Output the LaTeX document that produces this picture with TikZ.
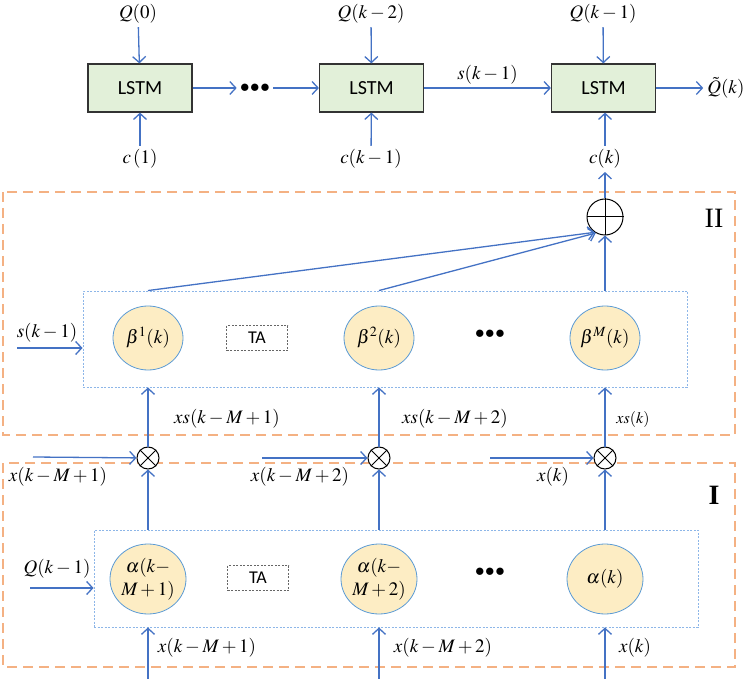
\documentclass[tikz,border=0pt]{standalone}
\usepackage{mathptmx}
\usepackage{fontspec}
\setmainfont{Liberation Serif}
\newfontfamily\calibri{Carlito}
\usetikzlibrary{arrows.meta}
\usetikzlibrary{shapes}
\definecolor{lineblue}{HTML}{4472C4}
\definecolor{lstmgreen}{HTML}{E2F0D9}
\definecolor{cellyellow}{HTML}{FDEDC4}
\definecolor{cellblue}{HTML}{5B9BD5}
\definecolor{boxblue}{HTML}{8DB6E8}
\definecolor{dashorange}{HTML}{F4B183}

\begin{document}
\begin{tikzpicture}[x=1pt, y=-1pt, font=\fontsize{19}{21}\selectfont]
	\tikzstyle{arrowStyle}=[draw=lineblue, line width=1.3pt, -{Straight Barb[length=6pt,width=13pt]}]
	\tikzstyle{lineStyle}=[draw=lineblue, line width=1.3pt]
	\tikzstyle{lstmStyle}=[rectangle, draw=black!80, fill=lstmgreen, line width=1.2pt, minimum width=104pt, minimum height=48pt, font=\calibri\fontsize{20}{22}\selectfont]
	\tikzstyle{cellStyle}=[ellipse, draw=cellblue, fill=cellyellow, line width=0.8pt, minimum width=70pt, minimum height=64pt, inner sep=0pt, align=center]
	\tikzstyle{groupStyle}=[rectangle, draw=boxblue, line width=0.9pt, dash pattern=on 2pt off 1.5pt]
	\tikzstyle{taStyle}=[rectangle, draw=black!60, line width=0.8pt, dash pattern=on 2pt off 1.5pt, minimum width=61pt, minimum height=25pt, inner sep=0pt, font=\calibri\fontsize{18}{20}\selectfont]
	\tikzstyle{opStyle}=[circle, draw=black, fill=white, line width=1pt, inner sep=0pt]
	\tikzstyle{areaStyle}=[draw=dashorange, line width=1.5pt, dash pattern=on 10pt off 6pt]
	\useasboundingbox (0,0) rectangle (750,679);

	% areas I and II
	\draw[areaStyle] (3,192) rectangle (735,435);
	\draw[areaStyle] (3,463) rectangle (735,667);
	\node (areaII) at (714,218) {\fontsize{28}{30}\selectfont II};
	\node (areaI) at (714,495) {\fontsize{28}{30}\selectfont\bfseries I};

	% LSTM chain
	\node[lstmStyle] (lstm1) at (140,88) {LSTM};
	\node[lstmStyle] (lstm2) at (371.5,88) {LSTM};
	\node[lstmStyle] (lstm3) at (603.5,88) {LSTM};
	\node (dotsTop) at (255,88) {$\bullet\!\bullet\!\bullet$};
	\node (q0) at (138,14) {$Q(0)$};
	\node (qk2) at (371,14) {$Q(k-2)$};
	\node (qk1) at (603,14) {$Q(k-1)$};
	\node (c1) at (140,159) {$c\,(1)$};
	\node (ck1) at (371,159) {$c(k-1)$};
	\node (ck) at (605,159) {$c(k)$};
	\node[inner sep=1pt] (qhat) at (726,88) {$\tilde{Q}(k)$};
	\draw[arrowStyle] (q0) -- (lstm1);
	\draw[arrowStyle] (c1) -- (lstm1);
	\draw[arrowStyle] (qk2) -- (lstm2);
	\draw[arrowStyle] (ck1) -- (lstm2);
	\draw[arrowStyle] (qk1) -- (lstm3);
	\draw[arrowStyle] (ck) -- (ck |- lstm3.south);
	\draw[arrowStyle] (lstm1) -- (dotsTop);
	\draw[arrowStyle] (dotsTop) -- (lstm2);
	\draw[arrowStyle] (lstm2) -- node[above] {$s(k-1)$} (lstm3);
	\draw[arrowStyle, shorten >=3pt] (lstm3) -- (qhat);

	% area II: TA over x
	\node[opStyle, minimum size=36pt] (oplus) at (605,217) {};
	\draw[line width=1pt] (oplus.north) -- (oplus.south) (oplus.west) -- (oplus.east);
	\draw[arrowStyle] (oplus) -- (ck);
	\node[groupStyle, minimum width=604pt, minimum height=96pt] (betaBox) at (385,339) {};
	\node[cellStyle] (beta1) at (148,338) {$\beta^{1}(k)$};
	\node[cellStyle] (beta2) at (379,338) {$\beta^{2}(k)$};
	\node[cellStyle] (betaM) at (605,338) {$\beta^{M}(k)$};
	\node[taStyle] (taBeta) at (257,338) {TA};
	\node (dotsBeta) at (490,334) {$\bullet\!\bullet\!\bullet$};
	\node (sk1) at (47,333) {$s(k-1)$};
	\coordinate (sIn) at (17,348);
	\draw[arrowStyle] (sIn) -- (sIn -| betaBox.west);
	\draw[arrowStyle] (beta1 |- betaBox.north) -- (oplus.236);
	\draw[arrowStyle] (beta2 |- betaBox.north) -- (oplus.240);
	\draw[arrowStyle] (betaM |- betaBox.north) -- (oplus);

	% products x * alpha
	\node[opStyle, minimum size=22pt] (times1) at (148,458) {};
	\node[opStyle, minimum size=22pt] (times2) at (379,458) {};
	\node[opStyle, minimum size=22pt] (timesK) at (605,458) {};
	\foreach \t in {times1, times2, timesK}
		\draw[line width=1pt] (\t.north west) -- (\t.south east) (\t.north east) -- (\t.south west);
	\draw[arrowStyle] (times1) -- (times1 |- betaBox.south);
	\draw[arrowStyle] (times2) -- (times2 |- betaBox.south);
	\draw[arrowStyle] (timesK) -- (timesK |- betaBox.south);
	\node (xs1) at (227,419) {$xs(k-M+1)$};
	\node (xs2) at (455,419) {$xs(k-M+2)$};
	\node (xsK) at (633,419) {\fontsize{16}{18}\selectfont$xs(k)$};
	\coordinate (xIn1) at (33,457);
	\coordinate (xIn2) at (262,458);
	\coordinate (xInK) at (490,458);
	\draw[arrowStyle] (xIn1) -- (times1);
	\draw[arrowStyle] (xIn2) -- (times2);
	\draw[arrowStyle] (xInK) -- (timesK);
	\node (xl1) at (58,477) {$x(k-M+1)$};
	\node (xl2) at (300,477) {$x(k-M+2)$};
	\node (xlK) at (553,477) {$x(k)$};

	% area I: TA over Q
	\node[groupStyle, minimum width=604pt, minimum height=97pt] (alphaBox) at (396,578.5) {};
	\node[cellStyle, minimum width=76pt, minimum height=70pt] (alpha1) at (148,579) {$\alpha(k-$\\[2pt]$M+1)$};
	\node[cellStyle, minimum width=76pt, minimum height=70pt] (alpha2) at (379,579) {$\alpha(k-$\\[2pt]$M+2)$};
	\node[cellStyle, minimum width=76pt, minimum height=70pt] (alphaK) at (605,579) {$\alpha(k)$};
	\node[taStyle] (taAlpha) at (258,578) {TA};
	\node (dotsAlpha) at (490,572) {$\bullet\!\bullet\!\bullet$};
	\node (qIn) at (57,569) {$Q(k-1)$};
	\coordinate (qStart) at (30,588);
	\draw[arrowStyle] (qStart) -- (qStart -| alphaBox.west);
	\draw[arrowStyle] (times1 |- alphaBox.north) -- (times1);
	\draw[arrowStyle] (times2 |- alphaBox.north) -- (times2);
	\draw[arrowStyle] (timesK |- alphaBox.north) -- (timesK);
	\coordinate (in1) at (148,679);
	\coordinate (in2) at (379,679);
	\coordinate (inK) at (605,679);
	\draw[arrowStyle] (in1) -- (in1 |- alphaBox.south);
	\draw[arrowStyle] (in2) -- (in2 |- alphaBox.south);
	\draw[arrowStyle] (inK) -- (inK |- alphaBox.south);
	\node (xb1) at (207,648) {$x(k-M+1)$};
	\node (xb2) at (443,648) {$x(k-M+2)$};
	\node (xbK) at (635,648) {$x(k)$};
\end{tikzpicture}
\end{document}
